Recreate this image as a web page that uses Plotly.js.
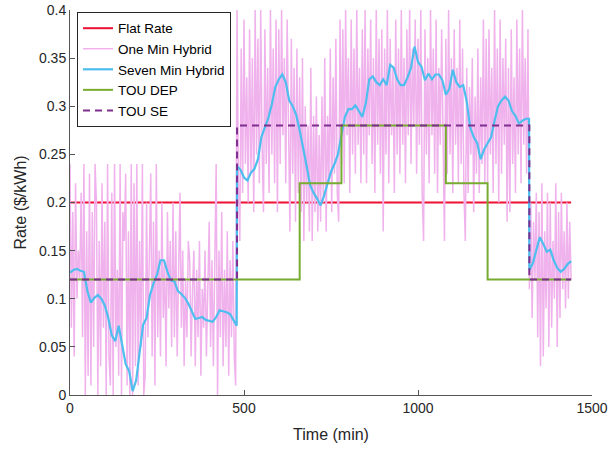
<!DOCTYPE html>
<html>
<head>
<meta charset="utf-8">
<script src="https://cdn.plot.ly/plotly-3.0.1.min.js"></script>
<style>html,body{margin:0;padding:0;background:#fff;}#chart{width:610px;height:449px;}</style>
</head>
<body>
<div id="chart"></div>
<script>
// ---------- data ----------
const flatTime = [0, 1440];
const flatRate = [0.2, 0.2];

// One Min Hybrid, sampled every 4 minutes (t = 0, 4, ..., 1440)
const oneMinStep = 4;
const oneMinRate = [
  0.24,0.07,0.19,0.04,0.22,0.10,0.15,0.12,0.21,0.06,0.24,0.00,0.17,0.02,0.23,
  0.01,0.19,0.05,0.24,0.20,0.00,0.16,0.03,0.22,0.07,0.18,0.00,0.24,0.04,0.01,
  0.21,0.00,0.24,0.05,0.13,0.02,0.24,0.00,0.19,0.16,0.23,0.01,0.17,0.00,0.24,
  0.00,0.22,0.03,0.24,0.01,0.16,0.05,0.24,0.00,0.02,0.20,0.06,0.14,0.23,0.04,
  0.18,0.01,0.24,0.06,0.15,0.04,0.20,0.08,0.14,0.03,0.19,0.09,0.16,0.05,0.20,
  0.06,0.17,0.04,0.13,0.21,0.07,0.15,0.03,0.12,0.06,0.16,0.14,0.04,0.11,0.15,
  0.03,0.13,0.06,0.16,0.02,0.11,0.07,0.15,0.04,0.12,0.18,0.05,0.14,0.03,0.17,
  0.24,0.00,0.15,0.06,0.19,0.03,0.13,0.05,0.17,0.02,0.14,0.06,0.16,0.04,0.01,
  0.40,0.22,0.16,0.36,0.21,0.39,0.24,0.33,0.20,0.38,0.23,0.35,0.19,0.40,0.25,
  0.37,0.22,0.40,0.26,0.19,0.38,0.24,0.34,0.21,0.40,0.25,0.36,0.22,0.39,0.19,
  0.38,0.24,0.40,0.27,0.35,0.22,0.39,0.25,0.17,0.37,0.23,0.34,0.18,0.36,0.21,
  0.33,0.19,0.35,0.16,0.30,0.20,0.28,0.17,0.34,0.16,0.29,0.19,0.31,0.17,0.27,
  0.18,0.31,0.20,0.35,0.17,0.29,0.22,0.36,0.19,0.33,0.23,0.37,0.21,0.18,0.39,
  0.24,0.38,0.22,0.40,0.27,0.35,0.21,0.39,0.25,0.36,0.23,0.40,0.26,0.34,0.22,
  0.38,0.25,0.40,0.22,0.36,0.27,0.39,0.24,0.35,0.21,0.40,0.26,0.37,0.23,0.38,
  0.17,0.36,0.25,0.40,0.22,0.37,0.27,0.34,0.21,0.39,0.25,0.36,0.23,0.40,0.26,
  0.35,0.22,0.38,0.27,0.40,0.24,0.36,0.28,0.39,0.23,0.37,0.26,0.40,0.21,0.16,
  0.38,0.25,0.35,0.22,0.40,0.27,0.36,0.23,0.39,0.21,0.34,0.26,0.38,0.24,0.16,
  0.37,0.23,0.40,0.25,0.35,0.21,0.38,0.26,0.34,0.22,0.39,0.24,0.36,0.21,0.16,
  0.34,0.21,0.32,0.25,0.35,0.19,0.31,0.23,0.36,0.21,0.33,0.24,0.39,0.22,0.37,
  0.22,0.38,0.25,0.34,0.21,0.40,0.24,0.36,0.20,0.39,0.23,0.35,0.26,0.37,0.18,
  0.34,0.19,0.38,0.24,0.33,0.21,0.39,0.25,0.36,0.22,0.40,0.26,0.35,0.23,0.38,
  0.11,0.20,0.08,0.18,0.12,0.21,0.06,0.19,0.03,0.22,0.04,0.17,0.09,0.21,0.05,
  0.20,0.07,0.16,0.10,0.22,0.05,0.19,0.08,0.21,0.11,0.17,0.09,0.20,0.10,0.18,
  0.12
];
const oneMinTime = oneMinRate.map((_, i) => i * oneMinStep);

// Seven Min Hybrid
const sevenTime = [
  0,10,20,30,40,50,60,70,80,90,100,110,120,130,140,150,160,170,180,190,
  200,210,220,230,240,250,260,270,280,290,300,310,320,330,340,350,360,370,380,390,
  400,410,420,430,440,450,460,470,479,
  480,490,500,510,520,530,540,550,560,570,580,590,600,610,620,630,640,650,660,670,
  680,690,700,710,720,730,740,750,760,770,780,790,800,810,820,830,840,850,860,870,
  880,890,900,910,920,930,940,950,960,970,980,990,1000,1010,1020,1030,1040,1050,1060,1070,
  1080,1090,1100,1110,1120,1130,1140,1150,1160,1170,1180,1190,1200,1210,1220,1230,1240,1250,1260,1270,
  1280,1290,1300,1310,1319,
  1320,1330,1340,1350,1360,1370,1380,1390,1400,1410,1420,1430,1440
];
const sevenRate = [
  0.127,0.130,0.131,0.129,0.128,0.108,0.096,0.101,0.104,0.100,0.093,0.080,0.062,0.056,0.072,0.050,0.032,0.025,0.004,0.015,
  0.045,0.073,0.080,0.104,0.116,0.125,0.140,0.140,0.128,0.119,0.118,0.108,0.105,0.101,0.095,0.087,0.079,0.080,0.081,0.078,
  0.077,0.076,0.081,0.088,0.087,0.086,0.084,0.078,0.072,
  0.238,0.234,0.226,0.223,0.231,0.235,0.245,0.268,0.278,0.288,0.302,0.320,0.328,0.333,0.325,0.306,0.300,0.291,0.275,0.258,
  0.238,0.218,0.210,0.204,0.197,0.207,0.220,0.232,0.240,0.250,0.270,0.289,0.297,0.297,0.301,0.295,0.289,0.303,0.328,0.331,
  0.325,0.322,0.328,0.322,0.343,0.340,0.328,0.322,0.322,0.330,0.340,0.362,0.346,0.341,0.327,0.334,0.328,0.333,0.333,0.327,
  0.312,0.318,0.338,0.325,0.320,0.322,0.305,0.278,0.268,0.262,0.245,0.255,0.262,0.268,0.285,0.300,0.306,0.310,0.306,0.295,
  0.290,0.282,0.285,0.287,0.287,
  0.130,0.137,0.150,0.164,0.157,0.149,0.151,0.140,0.132,0.128,0.131,0.136,0.139
];

// Time-of-use tariffs (step values starting at each time)
const touDepTime = [0, 660, 780, 1080, 1200, 1440];
const touDepRate = [0.12, 0.22, 0.28, 0.22, 0.12, 0.12];
const touSeTime = [0, 480, 1320, 1440];
const touSeRate = [0.12, 0.28, 0.12, 0.12];

const seriesNames = ['Flat Rate', 'One Min Hybrid', 'Seven Min Hybrid', 'TOU DEP', 'TOU SE'];
const xTicks = [0, 500, 1000, 1500];
const yTicks = [0, 0.05, 0.1, 0.15, 0.2, 0.25, 0.3, 0.35, 0.4];

// ---------- chart ----------
const FONT = 'Liberation Sans, Arial, Helvetica, sans-serif';
const traces = [
  {x: flatTime, y: flatRate, name: seriesNames[0], mode: 'lines',
   line: {color: '#EE1133', width: 2}},
  {x: oneMinTime, y: oneMinRate, name: seriesNames[1], mode: 'lines',
   line: {color: '#F0B2EC', width: 1.5}},
  {x: sevenTime, y: sevenRate, name: seriesNames[2], mode: 'lines',
   line: {color: '#4DBEEE', width: 2.2}},
  {x: touDepTime, y: touDepRate, name: seriesNames[3], mode: 'lines',
   line: {color: '#77AC30', width: 2, shape: 'hv'}},
  {x: touSeTime, y: touSeRate, name: seriesNames[4], mode: 'lines',
   line: {color: '#7E2F8E', width: 2, shape: 'hv', dash: '7px,5px'}}
];

const layout = {
  width: 610, height: 449,
  margin: {l: 70, r: 18, t: 10, b: 54, pad: 0},
  paper_bgcolor: '#fff', plot_bgcolor: '#fff',
  font: {family: FONT, color: '#262626', size: 14},
  showlegend: true,
  legend: {
    x: 0.0134, y: 0.995, xanchor: 'left', yanchor: 'top',
    bgcolor: '#fff', bordercolor: '#262626', borderwidth: 1,
    font: {family: FONT, size: 13.5, color: '#000'},
    itemwidth: 30, tracegroupgap: 0
  },
  xaxis: {
    range: [0, 1500], tickvals: xTicks, ticktext: xTicks.map(String),
    ticks: 'inside', ticklen: 5, tickcolor: '#555', tickwidth: 1,
    showline: true, linecolor: '#555', linewidth: 1, mirror: false,
    showgrid: false, zeroline: false,
    tickfont: {family: FONT, size: 14, color: '#262626'},
    title: {text: 'Time (min)', font: {family: FONT, size: 16, color: '#262626'}, standoff: 14}
  },
  yaxis: {
    range: [0, 0.4], tickvals: yTicks, ticktext: yTicks.map(String),
    ticks: 'inside', ticklen: 5, tickcolor: '#555', tickwidth: 1,
    showline: true, linecolor: '#555', linewidth: 1, mirror: false,
    showgrid: false, zeroline: false,
    tickfont: {family: FONT, size: 14, color: '#262626'},
    title: {text: 'Rate ($/kWh)', font: {family: FONT, size: 16, color: '#262626'}, standoff: 8}
  }
};

Plotly.newPlot('chart', traces, layout, {displayModeBar: false, staticPlot: true});
</script>
</body>
</html>
